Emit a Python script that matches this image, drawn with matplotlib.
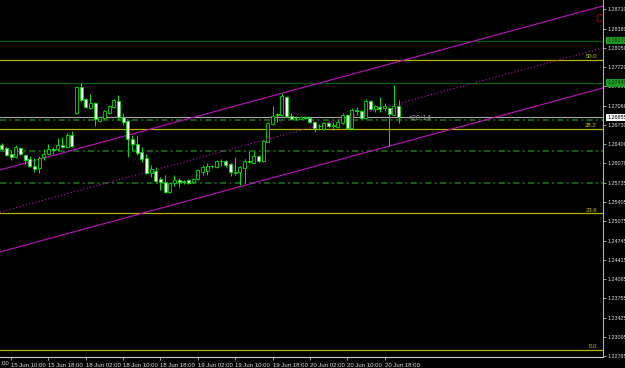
import matplotlib
matplotlib.use('Agg')

import matplotlib.pyplot as plt
from matplotlib.patches import Rectangle

# H1 candles, 15 Jun 08:00 .. 20 Jun 21:00 (weekend gap at bar 16)
opens = [1.26383, 1.26331, 1.26228, 1.26177, 1.26331, 1.26211, 1.26143, 1.26023, 1.25988, 1.26177,
         1.26228, 1.26314, 1.26314, 1.26383, 1.26348, 1.26554, 1.26932, 1.27377, 1.27171, 1.27017,
         1.27103, 1.26794, 1.26846, 1.26932, 1.27034, 1.27137, 1.26863, 1.26794, 1.26485, 1.26400,
         1.26263, 1.26160, 1.25903, 1.25937, 1.25800, 1.25748, 1.25577, 1.25731, 1.25783, 1.25765,
         1.25783, 1.25748, 1.25800, 1.25920, 1.25937, 1.26023, 1.26005, 1.26108, 1.26108, 1.26057,
         1.25910, 1.25920, 1.25988, 1.26108, 1.26074, 1.26194, 1.26108, 1.26434, 1.26743, 1.26914,
         1.26897, 1.27206, 1.26880, 1.26846, 1.26829, 1.26863, 1.26846, 1.26777, 1.26709, 1.26657,
         1.26760, 1.26717, 1.26691, 1.26760, 1.26897, 1.26674, 1.26983, 1.26966, 1.26846, 1.27137,
         1.27000, 1.27034, 1.27017, 1.27017, 1.26897, 1.27052]
highs = [1.26417, 1.26348, 1.26297, 1.26383, 1.26348, 1.26228, 1.26194, 1.26160, 1.26194, 1.26314,
         1.26400, 1.26348, 1.26503, 1.26520, 1.26588, 1.26623, 1.27394, 1.27446, 1.27189, 1.27257,
         1.27120, 1.26880, 1.26983, 1.27069, 1.27171, 1.27240, 1.26932, 1.26811, 1.26554, 1.26554,
         1.26348, 1.26228, 1.26040, 1.26005, 1.25834, 1.25868, 1.25748, 1.25868, 1.25817, 1.25783,
         1.25800, 1.25817, 1.25971, 1.26040, 1.26074, 1.26040, 1.26126, 1.26143, 1.26126, 1.26074,
         1.26177, 1.26023, 1.26143, 1.26280, 1.26280, 1.26211, 1.26468, 1.26777, 1.27052, 1.26932,
         1.27274, 1.27223, 1.26932, 1.26880, 1.26880, 1.26880, 1.26863, 1.26794, 1.26743, 1.26777,
         1.26777, 1.26777, 1.26811, 1.26932, 1.26914, 1.27017, 1.27034, 1.26983, 1.27171, 1.27154,
         1.27069, 1.27206, 1.27103, 1.27034, 1.27411, 1.27154]
lows = [1.26297, 1.26194, 1.26126, 1.26160, 1.26211, 1.26057, 1.26005, 1.25920, 1.25903, 1.26126,
        1.26211, 1.26228, 1.26280, 1.26331, 1.26331, 1.26348, 1.26914, 1.27120, 1.27017, 1.27000,
        1.26709, 1.26777, 1.26829, 1.26914, 1.27017, 1.26811, 1.26726, 1.26177, 1.26280, 1.26211,
        1.26091, 1.25885, 1.25834, 1.25731, 1.25611, 1.25560, 1.25560, 1.25680, 1.25663, 1.25714,
        1.25714, 1.25731, 1.25783, 1.25868, 1.25868, 1.25988, 1.25988, 1.26023, 1.26005, 1.25851,
        1.25868, 1.25697, 1.25731, 1.26074, 1.26074, 1.26091, 1.26091, 1.26434, 1.26726, 1.26777,
        1.26880, 1.26863, 1.26811, 1.26811, 1.26811, 1.26829, 1.26760, 1.26606, 1.26640, 1.26640,
        1.26691, 1.26640, 1.26674, 1.26743, 1.26657, 1.26657, 1.26897, 1.26829, 1.26829, 1.26983,
        1.26949, 1.26949, 1.26966, 1.26365, 1.26897, 1.26760]
closes = [1.26314, 1.26211, 1.26177, 1.26348, 1.26228, 1.26126, 1.26023, 1.25971, 1.26160, 1.26228,
          1.26314, 1.26305, 1.26383, 1.26348, 1.26554, 1.26365, 1.27377, 1.27154, 1.27034, 1.27103,
          1.26829, 1.26863, 1.26966, 1.27052, 1.27154, 1.26863, 1.26777, 1.26485, 1.26400, 1.26245,
          1.26143, 1.25903, 1.25971, 1.25765, 1.25748, 1.25577, 1.25731, 1.25783, 1.25748, 1.25748,
          1.25731, 1.25800, 1.25954, 1.26005, 1.26023, 1.26020, 1.26108, 1.26105, 1.26040, 1.25920,
          1.25925, 1.26005, 1.26108, 1.26091, 1.26194, 1.26108, 1.26451, 1.26760, 1.26880, 1.26905,
          1.27223, 1.26880, 1.26829, 1.26843, 1.26863, 1.26838, 1.26777, 1.26674, 1.26705, 1.26760,
          1.26709, 1.26726, 1.26777, 1.26897, 1.26674, 1.26983, 1.26966, 1.26846, 1.27137, 1.27000,
          1.27052, 1.27000, 1.27052, 1.26914, 1.27052, 1.26855]

time_ticks = [2, 10, 18, 26, 34, 42, 50, 58, 66, 74, 82]
time_labels = ['15 Jun 10:00', '15 Jun 18:00', '18 Jun 02:00', '18 Jun 10:00', '18 Jun 18:00',
               '19 Jun 02:00', '19 Jun 10:00', '19 Jun 18:00', '20 Jun 02:00', '20 Jun 10:00',
               '20 Jun 18:00']
price_ticks = [1.28710, 1.28380, 1.28050, 1.27720, 1.27390, 1.27060, 1.26730, 1.26400, 1.26070,
               1.25735, 1.25405, 1.25075, 1.24745, 1.24415, 1.24085, 1.23755, 1.23425, 1.23095,
               1.22765]

fib_names = ['0.0', '23.6', '38.2', '50.0']
fib_prices = [1.22868, 1.25212, 1.26657, 1.27840]
green_levels = [1.28171, 1.27446]
dashdot_levels = [1.26816, 1.26285, 1.25736]

# trend channel anchors (bar index, price)
chan_bars = [0, 128]
chan_top = [1.25963, 1.28751]
chan_mid = [1.25242, 1.28031]
chan_bot = [1.24557, 1.27345]

wick = '#00e000'
plt.rcParams['font.family'] = ['Liberation Sans', 'DejaVu Sans']

fig = plt.figure(figsize=(6.25, 3.68), dpi=100, facecolor='black')
ax = fig.add_axes([0, 11 / 368, 603 / 625, 357 / 368], facecolor='black')
ax.set_xlim(-0.364, 128.76)
ax.set_ylim(1.22748, 1.28869)

# horizontal levels
for p in green_levels:
    ax.axhline(p, color='#006000', lw=0.9, zorder=1)
for p in dashdot_levels:
    ax.axhline(p, color='#1c7a1c', lw=1.1, linestyle=(0, (4, 2.2, 1.2, 2.2)), zorder=1)
for name, p in zip(fib_names, fib_prices):
    ax.axhline(p, color='#b4b400', lw=0.9, zorder=1)
    ax.text(0.99, p + 0.00012, name, transform=ax.get_yaxis_transform(), color='#c8c800',
            fontsize=4.3, ha='right', va='bottom')
ax.axhline(closes[-1], color='#a8a8a8', lw=0.8, zorder=1)

# channel
ax.axline((chan_bars[0], chan_top[0]), (chan_bars[1], chan_top[1]), color='#c010c0', lw=0.8, zorder=2)
ax.axline((chan_bars[0], chan_bot[0]), (chan_bars[1], chan_bot[1]), color='#c010c0', lw=0.8, zorder=2)
ax.axline((chan_bars[0], chan_mid[0]), (chan_bars[1], chan_mid[1]), color='#c010c0', lw=0.8,
          linestyle=(0, (1, 2)), zorder=2)

# candles
for i, (o, h, l, c) in enumerate(zip(opens, highs, lows, closes)):
    ax.vlines(i, l, h, color=wick, lw=0.75, zorder=3)
    face = 'white' if c < o else 'black'
    bottom = min(o, c)
    height = max(abs(c - o), 0.00002)
    ax.add_patch(Rectangle((i - 0.32, bottom), 0.64, height, facecolor=face,
                           edgecolor=wick, lw=0.6, zorder=4))

ax.text(87, 1.26829, '<20:14', color='#8c8c8c', fontsize=5.6, va='center', ha='left', zorder=5)
ax.text(0.993, 0.947, 'C', transform=ax.transAxes, color='#d00000', fontsize=7, ha='center', va='center')

# axes styling
for s in ['top', 'left']:
    ax.spines[s].set_visible(False)
ax.spines['right'].set_color('#b0b0b0')
ax.spines['bottom'].set_color('#d0d0d0')
ax.spines['right'].set_linewidth(0.8)
ax.spines['bottom'].set_linewidth(0.8)

ax.yaxis.tick_right()
ax.set_yticks(price_ticks)
ax.set_yticklabels(['%.5f' % p for p in price_ticks])
ax.tick_params(axis='y', colors='#b0b0b0', labelcolor='#e0e0e0', labelsize=3.9, length=2.2,
               width=0.6, pad=1)

ax.set_xticks(time_ticks)
ax.set_xticklabels(time_labels, ha='left')
ax.tick_params(axis='x', colors='#b0b0b0', labelcolor='#e0e0e0', labelsize=4.3, length=2.5,
               width=0.6, pad=2)
ax.text(-6, -0.012, '15 Jun 02:00', transform=ax.get_xaxis_transform(), color='#e0e0e0',
        fontsize=4.3, ha='left', va='top', clip_on=False)

# price boxes on the scale
tr = ax.get_yaxis_transform()
for p in green_levels:
    ax.text(1.007, p, '%.5f' % p, transform=tr, color='#0a300a', fontsize=3.9, va='center',
            ha='left', clip_on=False, zorder=6,
            bbox=dict(boxstyle='square,pad=0.2', facecolor='#1f9a1f', edgecolor='none'))
ax.text(1.007, closes[-1], '%.5f' % closes[-1], transform=tr, color='black', fontsize=3.9,
        va='center', ha='left', clip_on=False, zorder=6,
        bbox=dict(boxstyle='square,pad=0.2', facecolor='white', edgecolor='none'))

fig.savefig('out.png', dpi=100, facecolor='black')
